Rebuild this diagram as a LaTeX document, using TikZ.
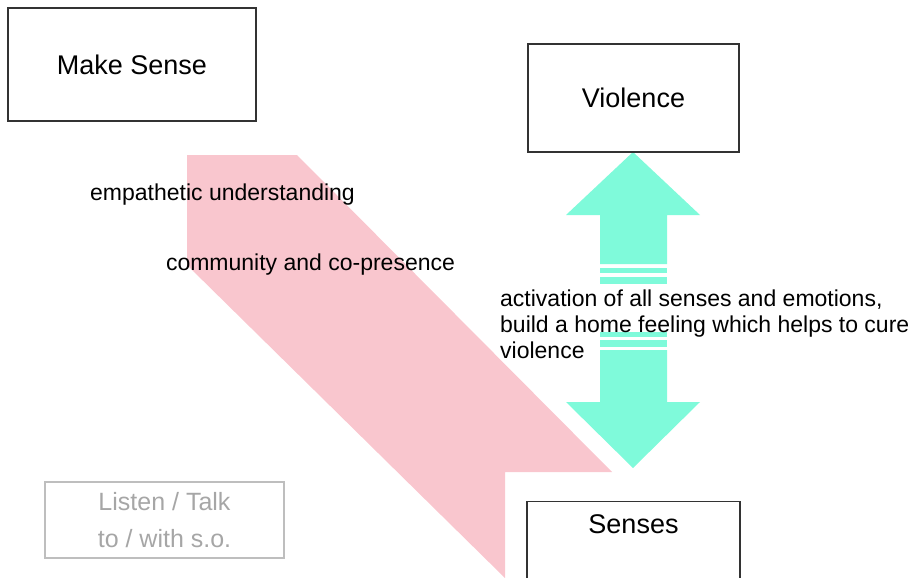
\documentclass[tikz,border=0pt]{standalone}
\usepackage{fontspec}
\setmainfont{Liberation Sans}
\usepackage{tikz}
\usetikzlibrary{positioning}

\definecolor{pinkband}{RGB}{249,198,206}
\definecolor{aquaarrow}{RGB}{127,250,218}
\definecolor{boxgray}{RGB}{51,51,51}
\definecolor{fadegray}{RGB}{166,166,166}
\definecolor{fadeline}{RGB}{190,190,190}

\tikzset{
  box/.style={draw=boxgray, line width=1.3pt, fill=white, inner sep=0pt,
    font=\fontsize{27}{32}\selectfont},
  fadebox/.style={draw=fadeline, line width=1.3pt, text=fadegray, align=center,
    font=\fontsize{25}{37}\selectfont},
  lbl/.style={inner sep=0pt, font=\fontsize{23}{26}\selectfont},
}

\begin{document}
\begin{tikzpicture}[x=1pt,y=-1pt]

  \useasboundingbox (0,0) rectangle (922,578);
  \clip (0,0) rectangle (922,578);

  % pink band
  \fill[pinkband] (187,155) -- (297,155) -- (612,472) -- (505,472) -- (505,578) -- (187,265) -- cycle ; %

  % striped arrow up
  \fill[aquaarrow] (633,152) -- (700,215) -- (667,215) -- (667,264) -- (600,264) -- (600,215) -- (566,215) -- cycle ; %
  \fill[aquaarrow] (600,268) rectangle (667,273) ; %
  \fill[aquaarrow] (600,277) rectangle (667,284) ; %
  % striped arrow down
  \fill[aquaarrow] (600,332) rectangle (667,337) ; %
  \fill[aquaarrow] (600,340) rectangle (667,347) ; %
  \fill[aquaarrow] (600,350) -- (667,350) -- (667,402) -- (700,402) -- (633,468) -- (566,402) -- (600,402) -- cycle ; %

  % boxes
  \node[box, minimum width=248, minimum height=113] (makesense) at (132,64.5) {Make Sense} ; %
  \node[box, minimum width=211, minimum height=108] (violence) at (633.5,98) {Violence} ; %
  \node[box, minimum width=213, minimum height=108, below=348pt of violence] (senses) {} ; %
  \node[box, draw=none, fill=none, below=13pt of senses.north] (senses-lbl) {Senses} ; %
  \node[fadebox, minimum width=239, minimum height=76] (listen) at (164.5,520) {Listen / Talk\\to / with s.o.} ; %

  % labels
  \node[lbl] (empathy) at (222.5,195) {empathetic understanding} ; %
  \node[lbl] (community) at (310.5,265) {community and co-presence} ; %
  \node[lbl, align=left, anchor=north west] (activation) at (500,290)
    {activation of all senses and emotions,\\build a home feeling which helps to cure\\violence} ; %

\end{tikzpicture}
\end{document}
